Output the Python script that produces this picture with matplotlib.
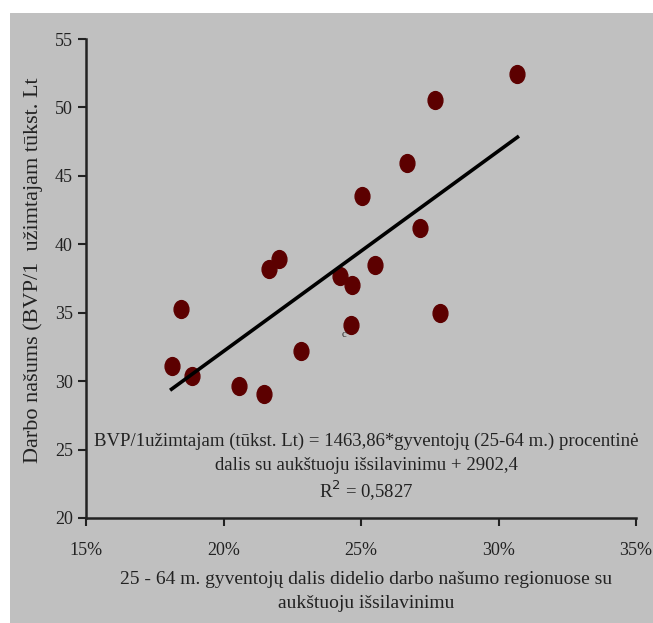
import matplotlib.pyplot as plt
import numpy as np
from matplotlib.patches import Rectangle
from matplotlib.path import Path
from matplotlib.ticker import FuncFormatter

plt.rcParams['font.family'] = ['Liberation Serif', 'DejaVu Serif']

# gyventoju su aukstuoju issilavinimu dalis (%) ir darbo nasumas (tukst. Lt)
share = [18.11, 18.44, 18.87, 20.56, 21.47, 21.67, 22.02, 22.81, 24.25,
         24.67, 24.63, 25.02, 25.51, 26.66, 27.15, 27.69, 27.89, 30.69]
productivity = [31.12, 35.30, 30.39, 29.61, 29.09, 38.18, 38.90, 32.19, 37.71,
                37.04, 34.08, 43.55, 38.47, 45.93, 41.20, 50.57, 34.95, 52.46]

# trendo linija is lygties: Lt = slope * % + intercept
slope = 1463.86
intercept = 2902.4

xticks = [15, 20, 25, 30, 35]
yticks = [20, 25, 30, 35, 40, 45, 50, 55]

W, H = 653, 623
fig = plt.figure(figsize=(W / 100, H / 100), dpi=100)
fig.patch.set_facecolor('white')

bg = fig.add_axes([10 / W, 0, 1 - 10 / W, 1 - 13 / H], zorder=0)
bg.axis('off')
bg.add_patch(Rectangle((0, 0), 1, 1, transform=bg.transAxes, color='#c0c0c0'))

ax = fig.add_axes([86 / W, 1 - 518 / H, 550 / W, 479 / H], zorder=1)
ax.patch.set_alpha(0)

# tasku zymekliai truputi istempti vertikaliai, kaip paveiksle
circ = Path.unit_circle()
oval = Path(circ.vertices * np.array([0.83, 1.0]), circ.codes)
ax.scatter(share, productivity, s=165, marker=oval, color='#5c0000', zorder=3)

xs = np.array([min(share), max(share)])
ax.plot(xs, (slope * xs + intercept) / 1000, color='black', lw=2.6, zorder=4)

ax.set_xlim(15, 35)
ax.set_ylim(20, 55)
ax.set_xticks(xticks)
ax.set_yticks(yticks)
ax.xaxis.set_major_formatter(FuncFormatter(lambda v, p: '%d%%' % v))
ax.tick_params(direction='out', length=6, width=1.5, labelsize=13, colors='#222222')
ax.tick_params(axis='x', pad=11)
for s in ['top', 'right']:
    ax.spines[s].set_visible(False)
for s in ['left', 'bottom']:
    ax.spines[s].set_linewidth(1.8)
    ax.spines[s].set_color('#222222')

ax.text(24.37, 33.4, 'c', fontsize=8, ha='center', va='center', color='#333333')

eq_fs = 13.5
fig.text(366 / W, 1 - 441 / H, 'BVP/1užimtajam (tūkst. Lt) = 1463,86*gyventojų (25-64 m.) procentinė',
         ha='center', va='center', fontsize=eq_fs, color='#222222', zorder=5)
fig.text(366 / W, 1 - 465 / H, 'dalis su aukštuoju išsilavinimu + 2902,4',
         ha='center', va='center', fontsize=eq_fs, color='#222222', zorder=5)
fig.text(366 / W, 1 - 491 / H, 'R$^2$ = 0,5827',
         ha='center', va='center', fontsize=eq_fs, color='#222222', zorder=5)

fig.text(33 / W, 1 - 270 / H, 'Darbo našums (BVP/1  užimtajam tūkst. Lt',
         rotation=90, ha='center', va='center', fontsize=16, color='#222222', zorder=5)
fig.text(366 / W, 1 - 579 / H, '25 - 64 m. gyventojų dalis didelio darbo našumo regionuose su',
         ha='center', va='center', fontsize=14, color='#222222', zorder=5)
fig.text(366 / W, 1 - 604 / H, 'aukštuoju išsilavinimu',
         ha='center', va='center', fontsize=14, color='#222222', zorder=5)

fig.savefig('out.png', dpi=100)
